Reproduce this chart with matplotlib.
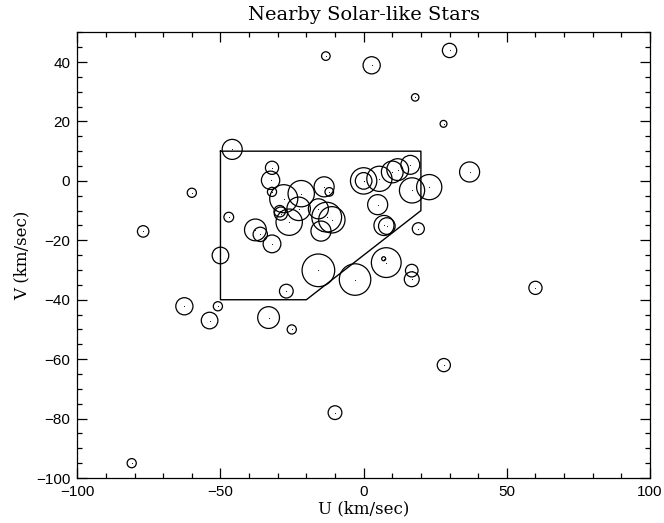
import matplotlib
matplotlib.use('Agg')
import matplotlib.pyplot as plt
import numpy as np
from matplotlib.collections import EllipseCollection
from matplotlib.ticker import MultipleLocator

# Star velocities (km/s) and circle radii (km/s)
u = [-45.9, -32.0, -32.5, -32.0, -27.9, -21.8, -22.7, -26.0, -29.3, -28.9,
     -37.8, -36.1, -32.0, -47.1, -50.0, -27.0, -13.8, -12.0, -15.8, -12.9,
     -11.1, -14.9, 0.0, 0.0, 5.5, 11.9, 16.3, 10.0, 16.9, 22.9,
     4.9, 7.1, 8.1, 19.1, -15.8, -3.0, 7.9, 7.0, 16.8, 16.8,
     -13.2, 2.8, 18.0, 30.0, 27.9, -60.0, 37.0, -77.0, -62.6, -53.8,
     -50.9, -33.2, -25.1, 60.0, 28.0, -10.0, -81.0]
v = [10.6, 4.4, 0.2, -3.7, -6.0, -4.3, -9.4, -13.9, -10.2, -11.0,
     -16.5, -18.0, -21.2, -12.2, -25.1, -37.1, -2.0, -3.7, -9.4, -12.2,
     -13.1, -16.9, 0.0, 0.0, 0.7, 3.8, 5.4, 3.0, -3.2, -2.1,
     -8.0, -15.0, -15.2, -16.1, -30.1, -33.2, -27.5, -26.2, -30.2, -33.1,
     42.0, 38.9, 28.1, 43.9, 19.2, -4.0, 3.0, -17.0, -42.2, -47.0,
     -42.2, -46.0, -50.0, -36.0, -62.0, -78.0, -95.0]
r = [3.5, 2.3, 3.2, 1.6, 4.9, 4.6, 4.1, 4.6, 2.0, 2.3,
     3.8, 2.5, 3.1, 1.7, 2.9, 2.4, 3.5, 1.5, 3.5, 5.2,
     4.6, 3.5, 4.6, 2.9, 4.4, 3.8, 3.3, 3.8, 4.4, 4.4,
     3.5, 3.5, 2.9, 2.1, 5.7, 5.5, 5.2, 0.7, 2.2, 2.6,
     1.5, 3.0, 1.3, 2.5, 1.2, 1.6, 3.5, 2.0, 3.0, 2.9,
     1.6, 3.8, 1.6, 2.3, 2.3, 2.4, 1.6]

# Selection region outline
region_u = [-50, 20, 20, -20, -50, -50]
region_v = [10, 10, -10, -40, -40, 10]

fig = plt.figure(figsize=(6.64, 5.23), dpi=100)
ax = fig.add_axes([0.1164, 0.086, 0.8625, 0.8522])

d = 2 * np.asarray(r)
ec = EllipseCollection(d, d, np.zeros_like(d), units='x',
                       offsets=np.column_stack([u, v]),
                       offset_transform=ax.transData,
                       facecolors='none', edgecolors='black', linewidths=0.9)
ax.add_collection(ec)
ax.scatter(u, v, s=0.6, color='black', marker='o', linewidths=0)
ax.plot(region_u, region_v, color='black', lw=1.0)

ax.set_xlim(-100, 100)
ax.set_ylim(-100, 50)
ax.xaxis.set_major_locator(MultipleLocator(50))
ax.xaxis.set_minor_locator(MultipleLocator(10))
ax.yaxis.set_major_locator(MultipleLocator(20))
ax.yaxis.set_minor_locator(MultipleLocator(5))
ax.tick_params(which='both', direction='in', top=True, right=True, width=0.9)
ax.tick_params(which='major', length=7)
ax.tick_params(which='minor', length=3.6)
ax.tick_params(axis='both', labelsize=11, pad=5)
for lab in ax.get_xticklabels() + ax.get_yticklabels():
    lab.set_family('Liberation Sans')
for sp in ax.spines.values():
    sp.set_linewidth(0.9)

serif = 'DejaVu Serif'
ax.set_title('Nearby Solar-like Stars', family=serif, fontsize=14, pad=9)
ax.set_xlabel('U (km/sec)', family=serif, fontsize=12, labelpad=1)
ax.set_ylabel('V (km/sec)', family=serif, fontsize=12, labelpad=4)

fig.savefig('out.png', dpi=100)
